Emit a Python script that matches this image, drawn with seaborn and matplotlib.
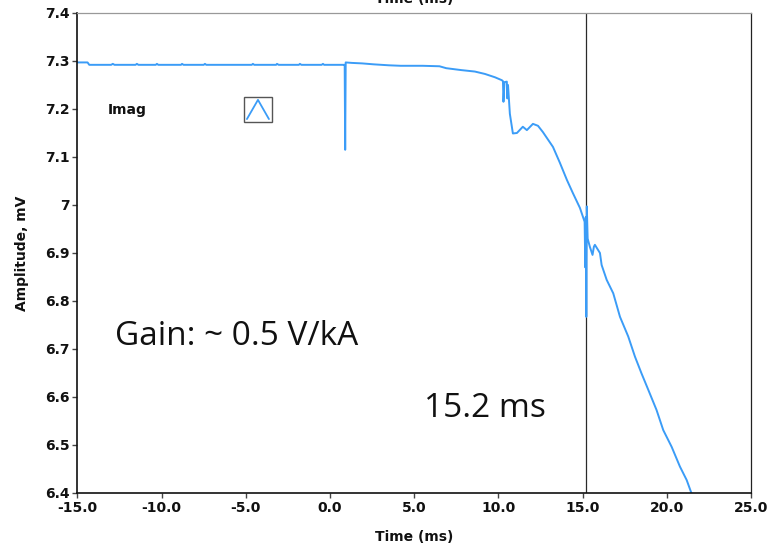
import numpy as np
import pandas as pd
import matplotlib
matplotlib.use("Agg")
import matplotlib.pyplot as plt
from matplotlib.patches import Rectangle
from matplotlib.lines import Line2D
from matplotlib.ticker import FixedLocator, FuncFormatter
import seaborn as sns

# Measured signal (time in ms, amplitude in mV)
time_ms = [
    -15.0, -14.4, -14.3, -13.0, -12.9, -12.8, -11.55, -11.47, -11.38,
    -10.35, -10.28, -10.2, -8.85, -8.79, -8.7, -7.5, -7.43, -7.35,
    -4.65, -4.58, -4.5, -3.2, -3.15, -3.05, -1.85, -1.79, -1.7,
    -0.5, -0.42, -0.35, 0.84, 0.87, 0.90, 0.93, 1.3, 1.9, 2.6, 3.5,
    4.2, 5.5, 6.5, 6.9, 7.8, 8.6, 9.2, 9.8, 10.2, 10.27, 10.30, 10.36,
    10.50, 10.53, 10.57, 10.68, 10.86, 11.1, 11.45, 11.69, 12.05,
    12.35, 12.64, 13.24, 13.65, 14.07, 14.42, 14.84, 15.12, 15.16,
    15.19, 15.22, 15.25, 15.30, 15.43, 15.59, 15.67, 15.73, 16.03,
    16.13, 16.43, 16.82, 17.22, 17.71, 18.11, 18.50, 18.90, 19.39,
    19.79, 20.29, 20.78, 21.18, 21.47, 21.55,
]
amplitude_mv = [
    7.297, 7.297, 7.292, 7.292, 7.294, 7.292, 7.292, 7.294, 7.292,
    7.292, 7.294, 7.292, 7.292, 7.294, 7.292, 7.292, 7.294, 7.292,
    7.292, 7.294, 7.292, 7.292, 7.294, 7.292, 7.292, 7.294, 7.292,
    7.292, 7.294, 7.292, 7.292, 7.292, 7.115, 7.297, 7.296, 7.295,
    7.293, 7.291, 7.290, 7.290, 7.289, 7.285, 7.281, 7.278, 7.273,
    7.266, 7.260, 7.258, 7.215, 7.256, 7.257, 7.222, 7.250, 7.190,
    7.149, 7.150, 7.163, 7.156, 7.169, 7.165, 7.152, 7.121, 7.088,
    7.052, 7.025, 6.994, 6.965, 6.870, 6.975, 6.767, 6.997, 6.930,
    6.913, 6.896, 6.913, 6.917, 6.900, 6.875, 6.844, 6.816, 6.767,
    6.726, 6.684, 6.649, 6.615, 6.573, 6.531, 6.496, 6.455, 6.427,
    6.399, 6.392,
]

x_ticks = [-15.0, -10.0, -5.0, 0.0, 5.0, 10.0, 15.0, 20.0, 25.0]
y_ticks = [6.4, 6.5, 6.6, 6.7, 6.8, 6.9, 7.0, 7.1, 7.2, 7.3, 7.4]
cursor_time = 15.2
series_name = "Imag"
gain_note = "Gain: ~ 0.5 V/kA"
cursor_note = "15.2 ms"

df = pd.DataFrame({"t": time_ms, "amp": amplitude_mv})

sns.set_theme(style="white")
plt.rcParams["font.family"] = ["DejaVu Sans"]

line_color = "#3b9cf7"

fig = plt.figure(figsize=(7.70, 5.48), dpi=100)
ax = fig.add_axes([0.1006, 0.1004, 0.8747, 0.8759])

sns.lineplot(data=df, x="t", y="amp", sort=False, estimator=None,
             color=line_color, linewidth=1.4, ax=ax)

ax.axvline(cursor_time, color="#2a2a2a", linewidth=0.9, zorder=1)

ax.set_xlim(x_ticks[0], x_ticks[-1])
ax.set_ylim(y_ticks[0], y_ticks[-1])
ax.xaxis.set_major_locator(FixedLocator(x_ticks))
ax.yaxis.set_major_locator(FixedLocator(y_ticks))
ax.xaxis.set_major_formatter(FuncFormatter(lambda v, p: f"{v:.1f}"))
ax.yaxis.set_major_formatter(FuncFormatter(lambda v, p: f"{round(v, 2):g}"))

ax.tick_params(axis="both", which="major", direction="out", length=3.5,
               width=1.0, color="#444444", labelsize=10, pad=2,
               left=True, bottom=True)
for lbl in ax.get_xticklabels() + ax.get_yticklabels():
    lbl.set_fontweight("bold")
    lbl.set_color("#111111")

for side in ["left", "bottom"]:
    ax.spines[side].set_color("#111111")
    ax.spines[side].set_linewidth(1.2)
ax.spines["right"].set_color("#222222")
ax.spines["right"].set_linewidth(0.9)
ax.spines["top"].set_color("#999999")
ax.spines["top"].set_linewidth(0.9)

ax.set_xlabel("Time (ms)", fontsize=10, fontweight="bold", color="#111111")
ax.set_ylabel("Amplitude, mV", fontsize=10, fontweight="bold", color="#111111")
ax.xaxis.set_label_coords(0.5, -0.077)
ax.yaxis.set_label_coords(-0.072, 0.5)

# upper axis title, partly outside the canvas
fig.text(0.5375, 0.9945, "Time (ms)", ha="center", va="baseline",
         fontsize=10, fontweight="bold", color="#111111")

# plot legend: name and line sample in a small box
ax.text(0.045, 0.798, series_name, transform=ax.transAxes, ha="left",
        va="center", fontsize=10, fontweight="bold", color="#111111")
ax.add_patch(Rectangle((0.247, 0.773), 0.042, 0.052, transform=ax.transAxes,
                       facecolor="white", edgecolor="#555555", linewidth=1.0,
                       zorder=3))
ax.add_line(Line2D([0.2516, 0.268, 0.2843], [0.779, 0.819, 0.779],
                   transform=ax.transAxes, color=line_color, linewidth=1.3,
                   zorder=4))

ax.text(-12.77, 6.727, gain_note, ha="left", va="center", fontsize=24,
        family=["Open Sans", "DejaVu Sans"], color="#111111")
ax.text(5.57, 6.577, cursor_note, ha="left", va="center", fontsize=24,
        family=["Open Sans", "DejaVu Sans"], color="#111111")

fig.savefig("out.png", dpi=100, facecolor="white")
